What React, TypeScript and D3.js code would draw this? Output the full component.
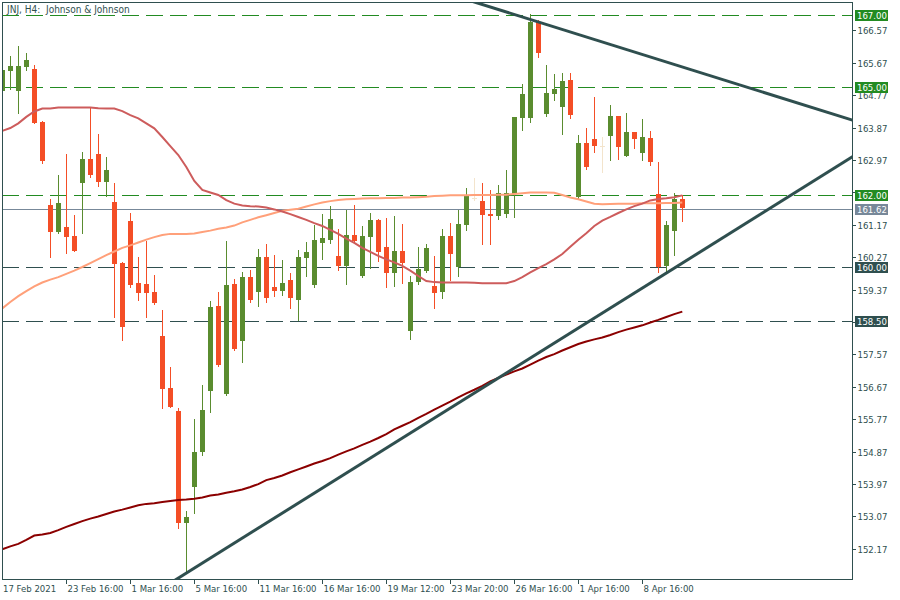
import React from "react";
import * as d3 from "d3";

// ---- data (JNJ H4) ----
const openP = [164.90,165.45,164.90,165.56,165.50,164.03,161.72,160.98,161.10,160.86,162.34,163.00,163.14,162.37,161.81,160.11,161.28,159.56,159.54,159.31,158.09,156.64,156.00,152.90,153.90,154.87,156.56,158.92,156.47,159.53,157.95,159.72,159.31,160.28,159.44,159.34,159.64,159.09,160.26,159.50,160.67,160.75,160.31,160.03,160.89,159.75,160.83,161.31,160.56,159.83,160.44,158.22,159.58,159.89,159.47,159.31,160.86,160.00,161.17,161.92,161.83,161.47,161.42,161.47,162.03,164.15,164.15,166.81,164.25,164.81,164.45,165.19,161.94,163.44,163.56,163.37,163.65,164.19,163.09,163.75,163.18,163.59,162.02,160.02,161.01,161.89];
const highP = [165.52,165.86,166.14,165.95,165.61,164.05,161.89,162.56,163.14,161.44,163.20,164.44,163.69,163.06,162.32,160.15,161.51,160.28,160.71,159.78,158.81,157.23,156.08,153.22,155.78,156.72,159.06,159.31,160.72,159.67,159.86,159.92,160.50,160.64,160.33,160.19,159.83,160.47,160.69,161.17,161.47,161.69,161.06,161.58,161.72,161.14,161.50,161.33,161.36,161.42,161.19,159.75,160.56,160.64,160.31,161.06,161.22,161.58,162.19,162.47,162.33,162.14,162.28,162.69,164.17,165.08,167.03,166.86,165.61,165.36,165.39,165.39,163.67,163.86,164.72,163.62,164.50,164.19,164.28,163.75,164.11,163.78,162.92,161.28,162.06,162.00];
const lowP = [164.88,164.94,164.29,165.47,164.00,162.90,160.29,160.95,160.40,160.45,160.94,162.50,162.25,161.98,158.62,157.97,159.45,159.08,158.62,158.97,156.09,156.12,152.75,151.54,153.16,154.79,155.98,157.25,156.45,157.70,157.37,159.04,158.93,159.04,159.20,159.22,158.87,158.53,159.75,159.45,160.22,160.67,159.92,159.53,160.70,159.72,159.97,160.17,159.44,159.47,159.56,158.00,159.53,159.87,158.86,159.14,159.64,159.75,161.03,161.86,160.64,160.64,161.33,161.40,161.38,163.81,164.04,165.84,164.19,164.64,163.69,164.14,161.92,162.73,163.20,162.65,162.97,163.00,163.09,163.31,162.98,162.84,159.87,159.87,160.33,161.29];
const closeP = [165.47,165.58,165.58,165.75,164.01,162.95,160.98,161.77,160.84,160.45,163.00,162.56,162.37,162.69,160.09,158.34,159.49,159.29,159.29,159.01,156.62,156.12,152.90,153.06,154.87,156.03,158.89,157.29,159.50,157.73,159.72,159.09,160.28,159.15,159.34,159.56,159.15,160.28,160.43,160.75,160.81,161.33,160.03,160.89,160.72,160.86,161.31,160.42,159.83,160.44,160.11,159.58,159.94,160.53,159.28,160.86,160.36,161.19,161.97,161.92,161.44,161.43,162.06,162.06,164.17,164.81,166.81,165.95,164.83,164.94,165.17,164.22,163.44,162.79,163.37,163.37,164.19,163.34,163.75,163.56,163.62,162.93,159.99,161.17,161.89,161.63];

// moving averages
const maRed = [163.78,163.86,163.99,164.17,164.32,164.40,164.40,164.43,164.43,164.43,164.43,164.43,164.41,164.40,164.40,164.33,164.22,164.13,163.99,163.85,163.61,163.36,163.11,162.78,162.39,162.14,162.07,162.00,161.86,161.76,161.71,161.69,161.68,161.65,161.60,161.54,161.47,161.39,161.31,161.22,161.14,161.03,160.92,160.79,160.67,160.53,160.42,160.31,160.21,160.13,160.03,159.90,159.75,159.61,159.58,159.57,159.57,159.57,159.57,159.56,159.55,159.55,159.55,159.55,159.61,159.72,159.85,159.97,160.08,160.21,160.36,160.56,160.76,160.94,161.14,161.29,161.39,161.50,161.60,161.69,161.76,161.85,161.89,161.91,161.94,161.99];
const maSalmon = [158.85,159.03,159.19,159.33,159.46,159.57,159.65,159.72,159.81,159.90,160.00,160.11,160.22,160.33,160.43,160.53,160.60,160.68,160.76,160.83,160.89,160.92,160.92,160.92,160.93,160.97,161.01,161.06,161.10,161.15,161.24,161.31,161.38,161.44,161.50,161.56,161.59,161.62,161.68,161.74,161.79,161.83,161.86,161.88,161.89,161.90,161.91,161.91,161.92,161.92,161.93,161.93,161.94,161.95,161.97,161.98,161.99,161.99,161.99,162.00,162.00,162.00,162.01,162.01,162.03,162.05,162.07,162.07,162.07,162.06,162.00,161.93,161.88,161.82,161.76,161.74,161.75,161.76,161.76,161.76,161.77,161.77,161.77,161.78,161.78,161.79];
const maDark = [152.16,152.24,152.31,152.42,152.54,152.57,152.61,152.69,152.78,152.86,152.94,153.01,153.07,153.14,153.21,153.26,153.32,153.38,153.42,153.44,153.47,153.50,153.53,153.54,153.56,153.60,153.65,153.68,153.73,153.77,153.82,153.89,153.97,154.08,154.14,154.21,154.30,154.38,154.46,154.54,154.61,154.69,154.79,154.88,154.96,155.06,155.15,155.25,155.36,155.49,155.59,155.69,155.81,155.92,156.04,156.15,156.26,156.38,156.49,156.59,156.70,156.82,156.92,157.01,157.10,157.18,157.29,157.40,157.50,157.58,157.68,157.77,157.86,157.93,157.99,158.04,158.11,158.19,158.26,158.32,158.38,158.46,158.53,158.61,158.69,158.76];

// trendlines: [candle index, price] anchors
const upperTrend = [[59.3, 167.34], [106.25, 164.08]];
const lowerTrend = [[21.8, 151.33], [106.25, 163.06]];

// horizontal levels
const greenLevels = [167.0, 165.0, 162.0];
const slateLevels = [160.0, 158.5];
const bidPrice = 161.62;

const yTicks = [166.57,165.67,164.77,163.87,162.97,162.07,161.17,160.27,159.37,158.47,157.57,156.67,155.77,154.87,153.97,153.07,152.17];
const hiddenTickLabels = [162.07, 158.47];
const xLabelIdx = [0, 8, 16, 24, 32, 40, 48, 56, 64, 72, 80];
const xLabelText = ["17 Feb 2021","23 Feb 16:00","1 Mar 16:00","5 Mar 16:00","11 Mar 16:00","16 Mar 16:00","19 Mar 12:00","23 Mar 20:00","26 Mar 16:00","1 Apr 16:00","8 Apr 16:00"];

const title = "JNJ, H4:  Johnson & Johnson";

// ---- styles ----
const W = 900, H = 600;
const L = 2, R = 852, T = 2, B = 579;
const FONT = "'DejaVu Sans Condensed', 'Liberation Sans', sans-serif";
const C_UP = "#5a8c2f";
const C_DN = "#f44e26";
const C_DOJI = "#f3e4cc";
const C_FRAME = "#2f4f4f";
const C_GREEN = "#228b22";
const C_BID = "#778899";
const DASH = "17,7";

export default function App() {
  const x = d3.scaleLinear().domain([0, 85]).range([2.3, 682.3]);
  const y = d3.scaleLinear().domain([158.5, 167]).range([321, 15]);
  const n = openP.length;
  const idx = d3.range(n);

  const line = (arr: number[]) =>
    d3.line<number>().x((_, i) => x(i)).y((v) => y(v))(arr) || "";

  const trend = (a: number[][]) => {
    const [[i0, p0], [i1, p1]] = a;
    const s = (p1 - p0) / (i1 - i0);
    const ia = x.invert(L - 5), ib = x.invert(R + 5);
    return { x1: x(ia), y1: y(p0 + s * (ia - i0)), x2: x(ib), y2: y(p0 + s * (ib - i0)) };
  };
  const tu = trend(upperTrend);
  const tl = trend(lowerTrend);

  const labelBox = (p: number, bg: string, key: string) => {
    const yy = Math.round(y(p));
    return (
      <g key={key}>
        <rect x={855} y={yy - 5} width={33} height={11} fill={bg} shapeRendering="crispEdges" />
        <text x={857} y={yy + 4} fontSize={9.5} fill="#fff" fontFamily={FONT}>{p.toFixed(2)}</text>
      </g>
    );
  };

  return (
    <svg width={W} height={H} style={{ position: "absolute", left: 0, top: 0, background: "#fff" }}>
      <defs>
        <clipPath id="plot"><rect x={L} y={T} width={R - L} height={B - T} /></clipPath>
      </defs>
      <rect x={0} y={0} width={W} height={H} fill="#fff" />

      <g clipPath="url(#plot)">
        {/* horizontal levels */}
        {greenLevels.map((p) => (
          <line key={"g" + p} x1={L} x2={R} y1={Math.round(y(p)) + 0.5} y2={Math.round(y(p)) + 0.5}
            stroke={C_GREEN} strokeWidth={1} strokeDasharray={DASH} shapeRendering="crispEdges" />
        ))}
        {slateLevels.map((p) => (
          <line key={"s" + p} x1={L} x2={R} y1={Math.round(y(p)) + 0.5} y2={Math.round(y(p)) + 0.5}
            stroke={C_FRAME} strokeWidth={1} strokeDasharray={DASH} shapeRendering="crispEdges" />
        ))}
        <line x1={L} x2={R} y1={Math.round(y(bidPrice)) + 0.5} y2={Math.round(y(bidPrice)) + 0.5}
          stroke={C_BID} strokeWidth={1} shapeRendering="crispEdges" />

        {/* candles */}
        {idx.map((i) => {
          const o = openP[i], c = closeP[i], h = highP[i], l = lowP[i];
          const cx = Math.round(x(i));
          const doji = Math.abs(o - c) < 0.005;
          const col = doji ? C_DOJI : c > o ? C_UP : C_DN;
          const top = Math.round(y(Math.max(o, c)));
          const bot = Math.round(y(Math.min(o, c)));
          return (
            <g key={i} shapeRendering="crispEdges">
              <line x1={cx + 0.5} x2={cx + 0.5} y1={Math.round(y(h))} y2={Math.round(y(l)) + 1} stroke={col} strokeWidth={1} />
              {doji ? (
                <line x1={cx - 2} x2={cx + 3} y1={top + 0.5} y2={top + 0.5} stroke={col} strokeWidth={1} />
              ) : (
                <rect x={cx - 2} y={top} width={5} height={Math.max(1, bot - top)} fill={col} />
              )}
            </g>
          );
        })}

        {/* moving averages */}
        <path d={line(maDark)} fill="none" stroke="#8b0000" strokeWidth={2} />
        <path d={line(maSalmon)} fill="none" stroke="#ffa07a" strokeWidth={2} />
        <path d={line(maRed)} fill="none" stroke="#cd5c5c" strokeWidth={2} />

        {/* trendlines */}
        <line {...tu} stroke={C_FRAME} strokeWidth={3} />
        <line {...tl} stroke={C_FRAME} strokeWidth={3} />
      </g>

      {/* frame */}
      <rect x={L + 0.5} y={T + 0.5} width={R - L} height={B - T} fill="none" stroke={C_FRAME} strokeWidth={1} shapeRendering="crispEdges" />

      {/* y axis */}
      {yTicks.map((t) => {
        const yy = Math.round(y(t)) + 0.5;
        return (
          <g key={"yt" + t}>
            <line x1={R} x2={R + 4} y1={yy} y2={yy} stroke={C_FRAME} shapeRendering="crispEdges" />
            {!hiddenTickLabels.includes(t) && (
              <text x={857.5} y={yy + 3.5} fontSize={9.5} fill={C_FRAME} fontFamily={FONT}>{t.toFixed(2)}</text>
            )}
          </g>
        );
      })}

      {greenLevels.map((p) => labelBox(p, C_GREEN, "gl" + p))}
      {labelBox(bidPrice, C_BID, "bid")}
      {slateLevels.map((p) => labelBox(p, C_FRAME, "sl" + p))}

      {/* x axis */}
      {xLabelIdx.map((i, k) => {
        const xx = Math.round(x(i)) + 0.5;
        return (
          <g key={"xl" + i}>
            {k > 0 && <line x1={xx} x2={xx} y1={B} y2={B + 5} stroke={C_FRAME} shapeRendering="crispEdges" />}
            <text x={k === 0 ? 3 : xx + 1} y={592} fontSize={9.5} fill={C_FRAME} fontFamily={FONT}>{xLabelText[k]}</text>
          </g>
        );
      })}

      {/* title */}
      <text x={7} y={12.5} fontSize={10} fill={C_FRAME} fontFamily={FONT} style={{ whiteSpace: "pre" }}>{title}</text>
    </svg>
  );
}
